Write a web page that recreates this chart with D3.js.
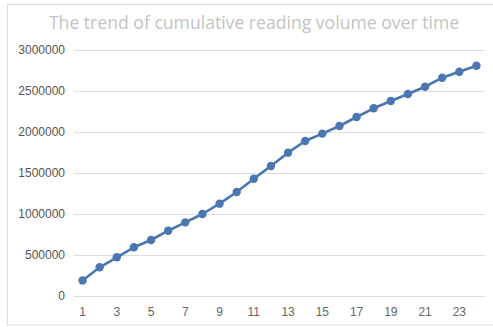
<!DOCTYPE html>
<html>
<head>
<meta charset="utf-8">
<script src="https://cdn.jsdelivr.net/npm/d3@7"></script>
<style>
  html, body { margin: 0; padding: 0; background: #fff; }
  svg { display: block; }
</style>
</head>
<body>
<svg id="chart" width="493" height="327"></svg>
<script>
// Time periods (1..24) and cumulative reading volume per period
const periods = d3.range(1, 25);
const volume = [
  190000, 350000, 472000, 594000, 683000, 796000, 898000, 1000000,
  1126000, 1268000, 1430000, 1585000, 1748000, 1890000, 1980000, 2073000,
  2183000, 2289000, 2378000, 2463000, 2552000, 2662000, 2735000, 2808000
];
const yTicks = [0, 500000, 1000000, 1500000, 2000000, 2500000, 3000000];
const xTickLabels = periods.filter(p => p % 2 === 1);
const title = "The trend of cumulative reading volume over time";

const svg = d3.select("#chart");
const W = 493, H = 327;

// light frame around the chart area
svg.append("rect")
  .attr("x", 7.5).attr("y", 4.5)
  .attr("width", W).attr("height", 320.5)
  .attr("fill", "#fff").attr("stroke", "#dcdcdc").attr("stroke-width", 1);

const plot = { left: 74, right: 485, top: 50, bottom: 296 };

const x = d3.scaleBand().domain(periods).range([plot.left, plot.right]);
const y = d3.scaleLinear().domain([0, 3000000]).range([plot.bottom, plot.top]);

// title
svg.append("text")
  .attr("x", 254).attr("y", 29)
  .attr("text-anchor", "middle")
  .attr("font-family", "'Open Sans', sans-serif")
  .attr("font-size", 17.6)
  .attr("fill", "#c4c4c4")
  .text(title);

// horizontal grid lines + y labels
const yAxis = d3.axisLeft(y).tickValues(yTicks)
  .tickSize(-(plot.right - plot.left)).tickPadding(9)
  .tickFormat(d3.format("d"));
const gy = svg.append("g").attr("transform", `translate(${plot.left},0)`).call(yAxis);
gy.select(".domain").remove();
gy.selectAll(".tick line").attr("stroke", "#dedede").attr("stroke-width", 1.2);
gy.selectAll(".tick text")
  .attr("font-family", "'Liberation Sans', Arial, sans-serif")
  .attr("font-size", 12).attr("fill", "#555");

// x labels (every other period)
const xAxis = d3.axisBottom(x).tickValues(xTickLabels).tickSize(0).tickPadding(11);
const gx = svg.append("g").attr("transform", `translate(0,${plot.bottom})`).call(xAxis);
gx.select(".domain").remove();
gx.selectAll(".tick text")
  .attr("font-family", "'Liberation Sans', Arial, sans-serif")
  .attr("font-size", 12).attr("fill", "#666");

const cx = d => x(d) + x.bandwidth() / 2;
const color = "#4a76b2";

// line
const line = d3.line().x((d, i) => cx(periods[i])).y(d => y(d));
svg.append("path").datum(volume)
  .attr("d", line)
  .attr("fill", "none").attr("stroke", color)
  .attr("stroke-width", 2.6).attr("stroke-linejoin", "round");

// markers
svg.append("g").selectAll("circle").data(volume).join("circle")
  .attr("cx", (d, i) => cx(periods[i]))
  .attr("cy", d => y(d))
  .attr("r", 4.2)
  .attr("fill", color);
</script>
</body>
</html>
